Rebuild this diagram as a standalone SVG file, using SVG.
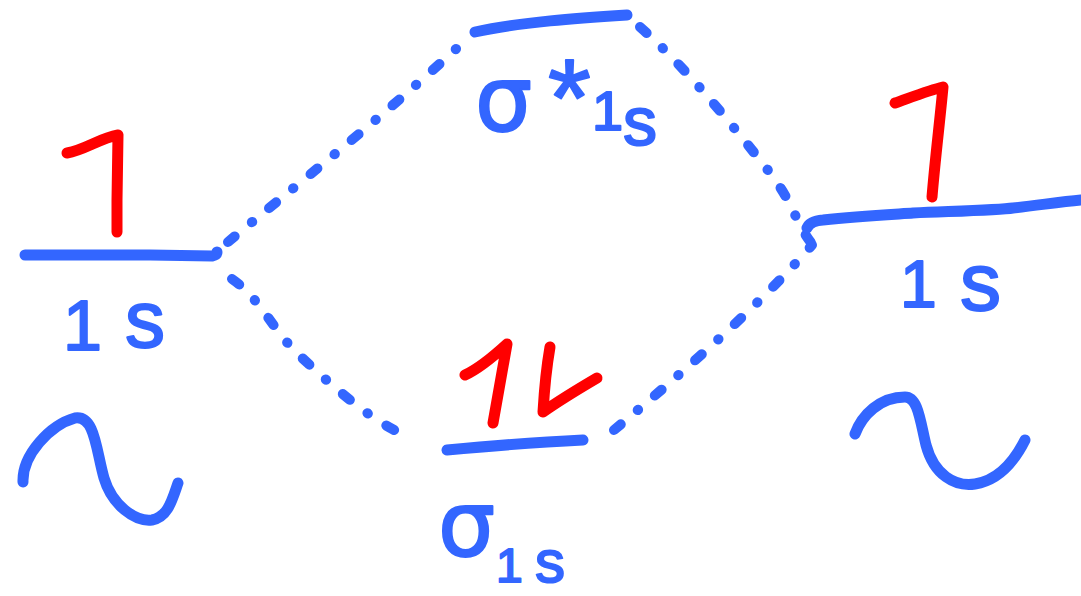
<svg xmlns="http://www.w3.org/2000/svg" width="1081" height="596" viewBox="0 0 1081 596">
<style>
.lvl{fill:none;stroke:#3366ff;stroke-width:11;stroke-linecap:round;stroke-linejoin:round}
.dot{fill:none;stroke:#3366ff;stroke-width:10;stroke-linecap:round;stroke-dasharray:9 22 0.5 22}
.e{fill:none;stroke:#ff0000;stroke-width:11;stroke-linecap:round;stroke-linejoin:round}
.wave{fill:none;stroke:#3366ff;stroke-width:11;stroke-linecap:round;stroke-linejoin:round}
.lbl{font-family:"Liberation Sans",Arial,sans-serif;fill:#3366ff;stroke:#3366ff;stroke-width:2;stroke-linejoin:round}
.gr{font-family:"DejaVu Sans",sans-serif}
</style>
<rect width="1081" height="596" fill="#ffffff"/>
<g id="connectors">
<path class="dot" d="M228,242 C 290,190 380,120 470,36"/>
<path class="dot" d="M232,279 C 262,300 272,330 300,356 S 372,422 405,435"/>
<path class="dot" d="M640,27 C 680,62 720,110 760,160 S 790,215 812,244"/>
<path class="dot" d="M614,430 C 680,375 760,305 812,245"/>
</g>
<g id="left-1s">
<path class="lvl" d="M25,255 L 150,255 L 212,256 Q 217,255 217,252"/>
<path class="e" d="M67,153 C 85,150 100,138 118,135 L 117,200 L 117,232"/>
<text class="lbl"><tspan x="63" y="350" font-size="70">1</tspan><tspan x="125" y="347" font-size="80">s</tspan></text>
<path class="wave" d="M23,482 C 22,455 50,425 75,418 C 95,415 96,450 104,478 C 112,505 135,522 152,520 C 168,517 172,500 178,483"/>
</g>
<g id="sigma-star">
<path class="lvl" d="M475,32 C 520,22 580,18 627,15"/>
<text class="lbl"><tspan class="gr" x="475" y="131" font-size="90">σ</tspan><tspan x="548" y="135" font-size="110">*</tspan><tspan x="592" y="130" font-size="56">1</tspan><tspan x="623" y="145" font-size="68">s</tspan></text>
</g>
<g id="sigma">
<path class="lvl" d="M447,450 C 490,446 540,442 583,440"/>
<path class="e" d="M465,375 C 480,368 495,355 507,344 L 493,423"/>
<path class="e" d="M550,347 C 546,370 544,395 543,412 C 560,400 580,388 597,378"/>
<text class="lbl"><tspan class="gr" x="438" y="556" font-size="90">σ</tspan><tspan x="496" y="582" font-size="48">1</tspan><tspan x="535" y="582" font-size="60">s</tspan></text>
</g>
<g id="right-1s">
<path class="lvl" d="M807,228 Q 810,221 823,220 C 860,216 900,214 913,213 C 960,211 1000,210 1013,208 C 1040,205 1060,202 1081,200"/>
<path class="e" d="M895,103 C 912,97 930,90 943,87 C 940,120 935,160 932,197"/>
<text class="lbl"><tspan x="900" y="307" font-size="66">1</tspan><tspan x="960" y="310" font-size="82">s</tspan></text>
<path class="wave" d="M855,434 C 862,415 880,397 905,397 C 918,397 920,420 926,445 C 934,475 955,487 975,484 C 1000,480 1015,460 1025,440"/>
</g>
</svg>
